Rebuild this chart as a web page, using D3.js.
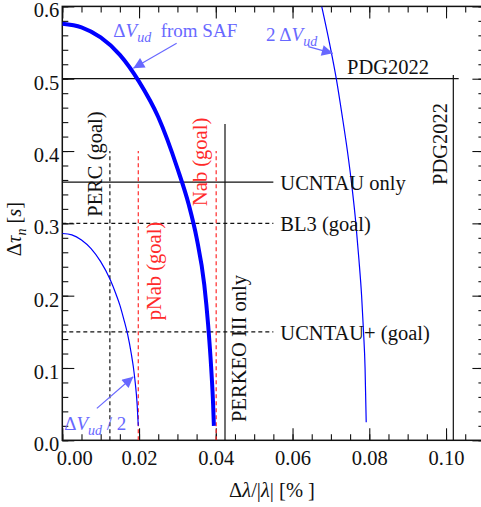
<!DOCTYPE html>
<html>
<head>
<meta charset="utf-8">
<script src="https://cdn.jsdelivr.net/npm/d3@7"></script>
<style>
  body { margin: 0; background: #fff; }
  text { font-family: "Liberation Serif", "Times New Roman", serif; }
</style>
</head>
<body>
<svg id="chart" width="481" height="507"></svg>
<script>
// curves: [dLambda (%), dTau (s)]
const safCurve = [[0, 0.576], [0.005, 0.571], [0.01, 0.557], [0.015, 0.533], [0.02, 0.496], [0.025, 0.447],
    [0.03, 0.376], [0.033, 0.325], [0.035, 0.280], [0.037, 0.215], [0.038, 0.160], [0.0388, 0.100],
    [0.0393, 0.05], [0.0395, 0.02]];
const halfCurve = [[0, 0.286], [0.0025, 0.284], [0.005, 0.277], [0.0075, 0.265], [0.01, 0.247], [0.0125, 0.222],
    [0.014, 0.202], [0.015, 0.187], [0.016, 0.168], [0.017, 0.147], [0.018, 0.119], [0.0185, 0.102],
    [0.019, 0.08], [0.0195, 0.05], [0.0198, 0.02]];
const doubleCurve = [[0.0676, 0.6], [0.0696, 0.55], [0.0714, 0.5], [0.0729, 0.45], [0.0743, 0.4], [0.0755, 0.35],
    [0.0765, 0.3], [0.0773, 0.25], [0.078, 0.2], [0.0785, 0.15], [0.0789, 0.1], [0.0791, 0.05], [0.0792, 0.025]];

// horizontal limits (tau)
const tauNames = ["UCNTAU only", "BL3 (goal)", "UCNTAU+ (goal)"];
const tauValues = [0.357, 0.3, 0.15];
const tauDashed = [false, true, true];
const tauLineEnd = 0.055;

// vertical limits (lambda)
const lamNames = ["PERC (goal)", "pNab (goal)", "Nab (goal)", "PERKEO III only"];
const lamValues = [0.0124, 0.0198, 0.0401, 0.0424];
const lamTops = [0.4, 0.4, 0.4, 0.4375];
const lamDashed = [true, true, true, false];
const lamRed = [false, true, true, false];
const lamLabelY = [0.382, 0.234, 0.385, 0.127];

// PDG2022
const pdgTau = 0.5;
const pdgLambda = 0.1019;

const xTicks = [0, 0.02, 0.04, 0.06, 0.08, 0.10];
const yTicks = [0, 0.1, 0.2, 0.3, 0.4, 0.5, 0.6];

const LEFT = 62.3, RIGHT = 484.4, TOP = 6.4, BOTTOM = 440.3;
const BLUE = "#0000ff", ANNO = "#6868ff", RED = "#ff2a2a", INK = "#111";

const svg = d3.select("#chart");
const x = d3.scaleLinear().domain([0, 0.11]).range([LEFT, RIGHT]);
const y = d3.scaleLinear().domain([0, 0.6]).range([BOTTOM, TOP]);

const defs = svg.append("defs");
defs.append("clipPath").attr("id", "clip")
    .append("rect").attr("x", LEFT).attr("y", TOP).attr("width", RIGHT - LEFT).attr("height", BOTTOM - TOP);
defs.append("marker")
    .attr("id", "head").attr("viewBox", "0 0 10 10").attr("refX", 10).attr("refY", 5)
    .attr("markerWidth", 14).attr("markerHeight", 11).attr("markerUnits", "userSpaceOnUse")
    .attr("orient", "auto")
    .append("path").attr("d", "M0,0 L10,5 L0,10 Z").attr("fill", ANNO);

// axes: major + minor ticks, inward, mirrored
function ticks(axis, pos, size, values, fmt) {
    const g = svg.append("g").attr("transform", pos)
        .call(axis.tickValues(values).tickSize(-size).tickFormat(fmt || ""));
    g.select(".domain").remove();
    g.selectAll("line").attr("stroke", INK).attr("stroke-width", 1.1);
    return g;
}
const xMinor = d3.range(0, 0.1101, 0.005);
const yMinor = d3.range(0, 0.6001, 0.02);
const gx = ticks(d3.axisBottom(x).tickPadding(10), `translate(0,${BOTTOM})`, 12, xTicks, d3.format(".2f"));
ticks(d3.axisBottom(x), `translate(0,${BOTTOM})`, 6, xMinor);
ticks(d3.axisTop(x), `translate(0,${TOP})`, 12, xTicks);
ticks(d3.axisTop(x), `translate(0,${TOP})`, 6, xMinor);
const gy = ticks(d3.axisLeft(y).tickPadding(3), `translate(${LEFT},0)`, 12, yTicks, d3.format(".1f"));
ticks(d3.axisLeft(y), `translate(${LEFT},0)`, 6, yMinor);
ticks(d3.axisRight(y), `translate(${RIGHT},0)`, 12, yTicks);
ticks(d3.axisRight(y), `translate(${RIGHT},0)`, 6, yMinor);

gx.selectAll("text").attr("font-size", 20.5).attr("fill", INK)
    .attr("font-family", "Liberation Serif")
    .attr("dx", d => d === 0 ? 12 : 0);
gy.selectAll("text").attr("font-size", 20.5).attr("fill", INK)
    .attr("font-family", "Liberation Serif")
    .attr("transform", "translate(0,4)");

svg.append("rect").attr("x", LEFT).attr("y", TOP).attr("width", RIGHT - LEFT).attr("height", BOTTOM - TOP)
    .attr("fill", "none").attr("stroke", INK).attr("stroke-width", 1.5);

// axis titles
const xt = svg.append("text").attr("x", 272).attr("y", 497).attr("text-anchor", "middle")
    .attr("font-size", 20.5).attr("fill", INK);
xt.append("tspan").text("Δ");
xt.append("tspan").attr("font-style", "italic").text("λ");
xt.append("tspan").text("/|");
xt.append("tspan").attr("font-style", "italic").text("λ");
xt.append("tspan").text("| [% ]");

const yt = svg.append("text").attr("transform", "translate(21,229) rotate(-90)").attr("text-anchor", "middle")
    .attr("font-size", 20.5).attr("fill", INK);
yt.append("tspan").text("Δ");
yt.append("tspan").attr("font-style", "italic").text("τ");
yt.append("tspan").attr("font-style", "italic").attr("font-size", 14).attr("dy", 5).text("n");
yt.append("tspan").attr("dy", -5).text(" [");
yt.append("tspan").attr("font-style", "italic").text("s");
yt.append("tspan").text("]");

const plot = svg.append("g").attr("clip-path", "url(#clip)");

// horizontal limit lines
tauValues.forEach((v, i) => {
    plot.append("line")
        .attr("x1", x(0)).attr("x2", x(tauLineEnd))
        .attr("y1", y(v)).attr("y2", y(v))
        .attr("stroke", INK).attr("stroke-width", 1.2)
        .attr("stroke-dasharray", tauDashed[i] ? "4,3" : null);
    svg.append("text").attr("x", x(tauLineEnd) + 7).attr("y", y(v) + 8)
        .attr("font-size", 20.5).attr("fill", INK).text(tauNames[i]);
});

// vertical limit lines
lamValues.forEach((v, i) => {
    const col = lamRed[i] ? RED : INK;
    plot.append("line")
        .attr("x1", x(v)).attr("x2", x(v))
        .attr("y1", y(0)).attr("y2", y(lamTops[i]))
        .attr("stroke", col).attr("stroke-width", 1.2)
        .attr("stroke-dasharray", lamDashed[i] ? "4,3" : null);
});
const lamBase = [102, 161, 207, 246];
lamNames.forEach((name, i) => {
    svg.append("text")
        .attr("transform", `translate(${lamBase[i]},${y(lamLabelY[i])}) rotate(-90)`)
        .attr("text-anchor", "middle")
        .attr("font-size", 20.5).attr("fill", lamRed[i] ? RED : INK)
        .text(name);
});

// PDG2022
plot.append("line").attr("x1", x(0)).attr("x2", x(0.1033)).attr("y1", y(pdgTau)).attr("y2", y(pdgTau))
    .attr("stroke", INK).attr("stroke-width", 1.2);
plot.append("line").attr("x1", x(pdgLambda)).attr("x2", x(pdgLambda)).attr("y1", y(0)).attr("y2", y(0.505))
    .attr("stroke", INK).attr("stroke-width", 1.2);
svg.append("text").attr("x", 347).attr("y", 74).attr("font-size", 20.5).attr("fill", INK).text("PDG2022");
svg.append("text").attr("transform", "translate(447,185) rotate(-90)")
    .attr("font-size", 20.5).attr("fill", INK).text("PDG2022");

// curves
const line = d3.line().x(d => x(d[0])).y(d => y(d[1])).curve(d3.curveMonotoneX);
plot.append("path").attr("d", line(safCurve)).attr("fill", "none")
    .attr("stroke", BLUE).attr("stroke-width", 4);
plot.append("path").attr("d", line(halfCurve)).attr("fill", "none")
    .attr("stroke", BLUE).attr("stroke-width", 1.2);
plot.append("path").attr("d", line(doubleCurve)).attr("fill", "none")
    .attr("stroke", BLUE).attr("stroke-width", 1.2);

// annotations: arrows [from, tip] and labels
const arrows = [
    [[0.0298, 0.549], [0.0185, 0.5144]],
    [[0.0641, 0.5443], [0.0705, 0.5351]],
    [[0.0090, 0.0442], [0.0185, 0.0879]]
];
arrows.forEach(a => {
    svg.append("line")
        .attr("x1", x(a[0][0])).attr("y1", y(a[0][1]))
        .attr("x2", x(a[1][0])).attr("y2", y(a[1][1]))
        .attr("stroke", ANNO).attr("stroke-width", 1.2)
        .attr("marker-end", "url(#head)");
});

function dV(pre, post, px, py) {
    const el = svg.append("text").attr("x", x(px)).attr("y", y(py))
        .attr("font-family", "Lato, 'DejaVu Sans', sans-serif").attr("font-size", 19).attr("fill", ANNO);
    if (pre) el.append("tspan").text(pre);
    el.append("tspan").text("Δ");
    el.append("tspan").attr("font-style", "italic").text("V");
    el.append("tspan").attr("font-style", "italic").attr("font-size", 14).attr("dy", 5).text("ud");
    if (post) el.append("tspan").attr("dy", -5).attr("font-size", post.size).text(post.text);
    return el;
}
dV(null, { text: "\u00a0 from SAF", size: 19 }, 0.0133, 0.558);
dV("2\u2009", null, 0.0531, 0.5525);
dV(null, { text: " / 2", size: 19 }, 0.0005, 0.0142);
</script>
</body>
</html>
